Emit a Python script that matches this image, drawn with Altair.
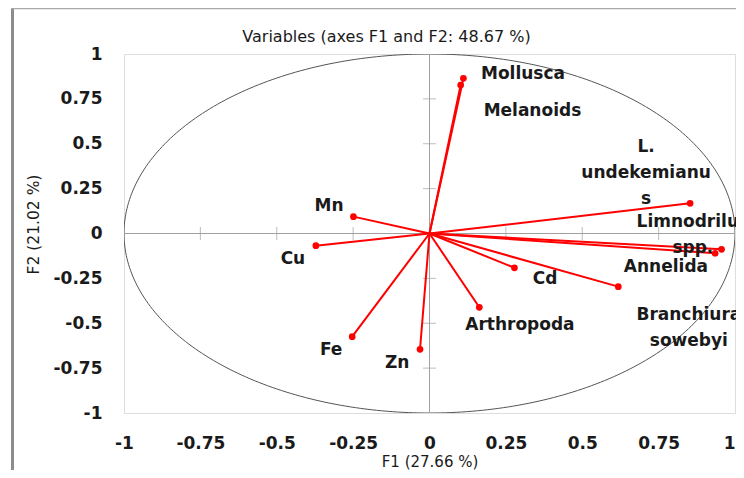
import altair as alt
import pandas as pd
import numpy as np

# Variables (correlation loadings on F1 / F2)
names = ["Mollusca", "Melanoids", "L. undekemianus", "Limnodrilus spp.", "Annelida",
         "Branchiura sowebyi", "Cd", "Arthropoda", "Zn", "Fe", "Mn", "Cu"]
f1 = [0.111, 0.102, 0.853, 0.956, 0.935, 0.618, 0.278, 0.163, -0.031, -0.253, -0.249, -0.372]
f2 = [0.865, 0.827, 0.168, -0.088, -0.110, -0.296, -0.191, -0.411, -0.645, -0.575, 0.094, -0.068]

# Label text (as wrapped in the original) and label anchor positions (first line)
label_text = ["Mollusca", "Melanoids", "L.\nundekemianu\ns", "Limnodrilus\nspp.", "Annelida",
              "Branchiura\nsowebyi", "Cd", "Arthropoda", "Zn", "Fe", "Mn", "Cu"]
label_x = [0.306, 0.337, 0.709, 0.862, 0.774, 0.849, 0.378, 0.296, -0.106, -0.322, -0.329, -0.447]
label_y = [0.887, 0.682, 0.482, 0.064, -0.187, -0.454, -0.253, -0.510, -0.721, -0.649, 0.153, -0.142]

tick_values = [-1, -0.75, -0.5, -0.25, 0, 0.25, 0.5, 0.75, 1]
inner_ticks = [-0.75, -0.5, -0.25, 0.25, 0.5, 0.75]

W, H = 611, 359
FONT = "DejaVu Sans"
TXT = "#1a1a1a"

vec = pd.DataFrame({"name": names, "x": f1, "y": f2, "x0": 0.0, "y0": 0.0})
lab = pd.DataFrame({"text": label_text, "lx": label_x, "ly": label_y})

theta = np.linspace(0, 2 * np.pi, 361)
circle = pd.DataFrame({"cx": np.cos(theta), "cy": np.sin(theta), "o": np.arange(361)})

xs = alt.Scale(domain=[-1, 1], nice=False)
ys = alt.Scale(domain=[-1, 1], nice=False)

xaxis = alt.Axis(values=tick_values, labelExpr="datum.value + ''", grid=False, ticks=False,
                 domain=False, labelFlush=False, labelFont=FONT, labelFontSize=17,
                 labelFontWeight="bold", labelColor=TXT, labelPadding=22,
                 labelAlign={"condition": {"test": "datum.value == 1", "value": "right"},
                             "value": "center"},
                 title="F1 (27.66 %)", titleFont=FONT, titleFontSize=15, titleFontWeight="normal",
                 titleColor=TXT, titleY=48, titleBaseline="middle")
yaxis = alt.Axis(values=tick_values, labelExpr="datum.value + ''", grid=False, ticks=False,
                 domain=False, labelFlush=False, labelFont=FONT, labelFontSize=17,
                 labelFontWeight="bold", labelColor=TXT, labelPadding=22,
                 title="F2 (21.02 %)", titleFont=FONT, titleFontSize=15.5, titleFontWeight="normal",
                 titleColor=TXT, titleX=-91, titleY=170, titleBaseline="middle")

base_x = alt.X("cx:Q", scale=xs, axis=xaxis)
base_y = alt.Y("cy:Q", scale=ys, axis=yaxis)

circ = alt.Chart(circle).mark_line(color="#555555", strokeWidth=1, clip=True).encode(
    x=base_x, y=base_y, order="o:Q")

# centre axes
hline = alt.Chart(pd.DataFrame({"a": [-1.0], "b": [1.0], "z": [0.0]})).mark_rule(
    color="#a0a0a0", strokeWidth=1).encode(x=alt.X("a:Q", scale=xs), x2="b:Q", y=alt.Y("z:Q", scale=ys))
vline = alt.Chart(pd.DataFrame({"a": [-1.0], "b": [1.0], "z": [0.0]})).mark_rule(
    color="#a0a0a0", strokeWidth=1).encode(y=alt.Y("a:Q", scale=ys), y2="b:Q", x=alt.X("z:Q", scale=xs))
xticks = alt.Chart(pd.DataFrame({"t": inner_ticks, "z": 0.0})).mark_tick(
    orient="vertical", color="#a0a0a0", size=13, thickness=1).encode(
    x=alt.X("t:Q", scale=xs), y=alt.Y("z:Q", scale=ys))
yticks = alt.Chart(pd.DataFrame({"t": inner_ticks, "z": 0.0})).mark_tick(
    orient="horizontal", color="#a0a0a0", size=13, thickness=1).encode(
    y=alt.Y("t:Q", scale=ys), x=alt.X("z:Q", scale=xs))

vectors = alt.Chart(vec).mark_rule(color="#ff0000", strokeWidth=2).encode(
    x=alt.X("x0:Q", scale=xs), y=alt.Y("y0:Q", scale=ys), x2="x:Q", y2="y:Q")
points = alt.Chart(vec).mark_circle(color="#ff0000", size=45, opacity=1).encode(
    x=alt.X("x:Q", scale=xs), y=alt.Y("y:Q", scale=ys))

labels = alt.Chart(lab).mark_text(font=FONT, fontSize=17, fontWeight="bold", color=TXT,
                                  lineBreak="\n", lineHeight=26, align="center",
                                  baseline="middle").encode(
    x=alt.X("lx:Q", scale=xs), y=alt.Y("ly:Q", scale=ys), text="text:N")

# outer chart-area border (left and top)
border_left = alt.Chart(pd.DataFrame({"d": [0]})).mark_rule(color="#8c8c8c", strokeWidth=3).encode(
    x=alt.value(-111.5), y=alt.value(-46), y2=alt.value(H + 60))
border_top = alt.Chart(pd.DataFrame({"d": [0]})).mark_rule(color="#a8a8a8", strokeWidth=1.5).encode(
    x=alt.value(-113), x2=alt.value(W + 10), y=alt.value(-45.5))

chart = alt.layer(circ, hline, vline, xticks, yticks, vectors, points, labels,
                  border_left, border_top).properties(
    width=W, height=H,
    title=alt.TitleParams("Variables (axes F1 and F2: 48.67 %)", font=FONT, fontSize=16,
                          fontWeight="normal", color=TXT, anchor="middle", dx=-43, offset=-38,
                          frame="group"),
    autosize=alt.AutoSizeParams(type="none"),
    padding={"left": 116, "top": 46, "right": 1, "bottom": 57},
).configure_view(stroke="#b9b9b9", strokeWidth=1).configure(background="white")

chart.save("out.html", embed_options={"renderer": "svg", "actions": False})
